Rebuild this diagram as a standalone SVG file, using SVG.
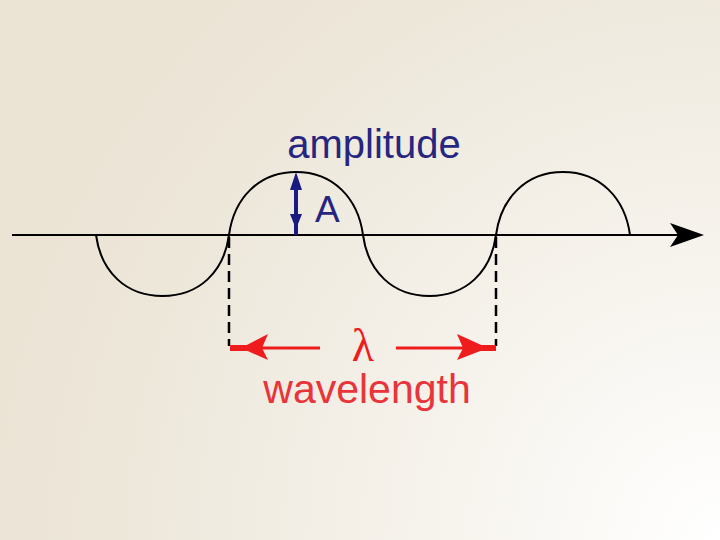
<svg xmlns="http://www.w3.org/2000/svg" width="720" height="540" viewBox="0 0 720 540">
<defs>
<radialGradient id="bg" cx="720" cy="540" r="760" gradientUnits="userSpaceOnUse">
<stop offset="0" stop-color="#ffffff"/>
<stop offset="0.35" stop-color="#f7f4ee"/>
<stop offset="0.8" stop-color="#ede7da"/>
<stop offset="1" stop-color="#ebe3d4"/>
</radialGradient>
<style>
.wave{fill:none;stroke:#000;stroke-width:2}
.dash{fill:none;stroke:#000;stroke-width:2.5;stroke-dasharray:11 6}
.red{fill:none;stroke:#ee1c1c;stroke-width:3}
.redhead{fill:#ee1c1c}
.blue{fill:none;stroke:#1a1a80;stroke-width:4}
.bluehead{fill:#1a1a80}
.lbl{font-family:"Liberation Sans",Arial,sans-serif}
</style>
</defs>
<rect width="720" height="540" fill="url(#bg)"/>
<g id="connectors">
<line x1="12" y1="235" x2="680" y2="235" stroke="#000" stroke-width="2"/>
<polygon points="670,223 704,235 670,247 678,235" fill="#000"/>
<path class="wave" d="M96,235 C101,272 126,296 162.5,296 C199,296 224,272 229,235 C234,198 259,172 296,172 C333,172 358,198 363,235 C368,272 393,296 429.5,296 C466,296 491,272 496,235 C501,198 526,172 563,172 C600,172 625,198 630,235"/>
<line class="dash" x1="229" y1="237" x2="229" y2="346"/>
<line class="dash" x1="496" y1="237" x2="496" y2="346"/>
<line class="blue" x1="296" y1="186" x2="296" y2="235"/>
<polygon class="bluehead" points="296,172 302,190 290,190"/>
<polygon class="bluehead" points="290,214 302,214 296,229"/>
<line class="red" x1="255" y1="348" x2="320" y2="348"/>
<line x1="230" y1="348" x2="248" y2="348" stroke="#ee1c1c" stroke-width="6"/>
<polygon class="redhead" points="241,348 268,334 262,348 268,360"/>
<line class="red" x1="396" y1="348" x2="470" y2="348"/>
<line x1="478" y1="348" x2="496" y2="348" stroke="#ee1c1c" stroke-width="6"/>
<polygon class="redhead" points="488,348 457,334 463,348 457,360"/>
</g>
<g id="amplitude-label">
<text class="lbl" x="374" y="158" font-size="40" fill="#262680" text-anchor="middle">amplitude</text>
</g>
<g id="A-label">
<text class="lbl" x="315" y="222" font-size="37" fill="#262680">A</text>
</g>
<g id="lambda-label">
<text x="363" y="361" font-family="'Liberation Serif','Times New Roman',serif" font-size="46" fill="#ee1c1c" text-anchor="middle">λ</text>
</g>
<g id="wavelength-label">
<text class="lbl" x="367" y="403" font-size="41" fill="#e8343a" text-anchor="middle">wavelength</text>
</g>
</svg>
